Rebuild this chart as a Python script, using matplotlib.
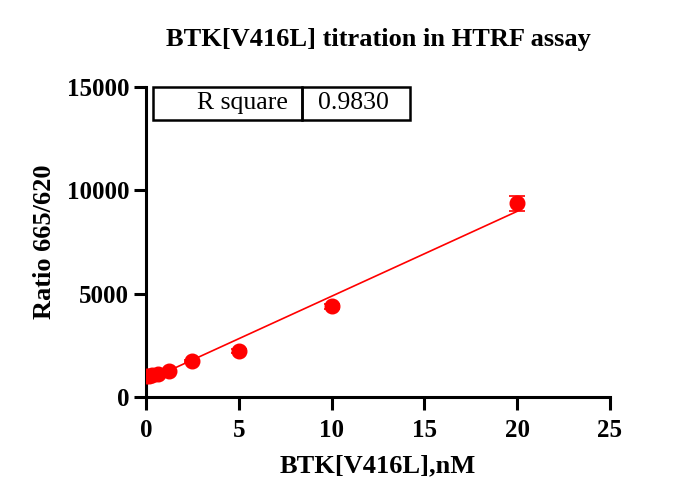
import matplotlib

matplotlib.use("Agg")
import matplotlib.pyplot as plt
from matplotlib.patches import Rectangle
import numpy as np

# BTK[V416L] concentration [nM] vs HTRF ratio 665/620
conc = np.array([0, 0.15625, 0.3125, 0.625, 1.25, 2.5, 5, 10, 20])
ratio = np.array([1020, 1040, 1070, 1130, 1270, 1740, 2230, 4400, 9370])
ratio_sd = np.array([40, 40, 40, 50, 50, 60, 80, 120, 370])
r_square = "0.9830"

xticks = [0, 5, 10, 15, 20, 25]
yticks = [0, 5000, 10000, 15000]

plt.rcParams["font.family"] = ["Liberation Serif", "DejaVu Serif"]

fig = plt.figure(figsize=(6.9, 5.04), dpi=100)
ax = fig.add_axes([146 / 690, 1 - 397 / 504, 464 / 690, 310 / 504])

red = "#ff0000"
ax.errorbar(conc, ratio, yerr=ratio_sd, fmt="o", color=red, ms=10.5,
            capsize=6, elinewidth=1.2, capthick=1.2, zorder=3)

# linear fit
slope, intercept = np.polyfit(conc, ratio, 1)
xf = np.array([conc.min(), conc.max()])
ax.plot(xf, slope * xf + intercept, color=red, lw=1.2, zorder=2)

ax.set_xlim(0, 25)
ax.set_ylim(0, 15000)
ax.set_xticks(xticks)
ax.set_yticks(yticks)
for s in ["top", "right"]:
    ax.spines[s].set_visible(False)
for s in ["left", "bottom"]:
    ax.spines[s].set_linewidth(2.2)
ax.tick_params(width=2.2, length=9, labelsize=18, pad=3)
ax.tick_params(axis="x", pad=7)
for lab in ax.get_xticklabels() + ax.get_yticklabels():
    lab.set_fontweight("bold")

ax.set_xlabel("BTK[V416L],nM", fontsize=19, fontweight="bold", labelpad=9)
ax.set_ylabel("Ratio 665/620", fontsize=19, fontweight="bold", labelpad=8)
fig.text(0.5 * (146 + 610) / 690, 1 - 40 / 504,
         "BTK[V416L] titration in HTRF assay",
         ha="center", va="center", fontsize=19, fontweight="bold")

# R square table
x0, x1, x2 = 7 / 464, 156 / 464, 264 / 464
y0, y1 = (397 - 120) / 310, 1.0
for a, b in [(x0, x1), (x1, x2)]:
    ax.add_patch(Rectangle((a, y0), b - a, y1 - y0, transform=ax.transAxes,
                           fill=False, lw=1.8, ec="black", clip_on=False))
ax.text(x1 - 0.03, (y0 + y1) / 2, "R square", transform=ax.transAxes,
        ha="right", va="center", fontsize=18.5)
ax.text(x1 + 0.035, (y0 + y1) / 2, r_square, transform=ax.transAxes,
        ha="left", va="center", fontsize=18.5)

fig.savefig("out.png", dpi=100)
